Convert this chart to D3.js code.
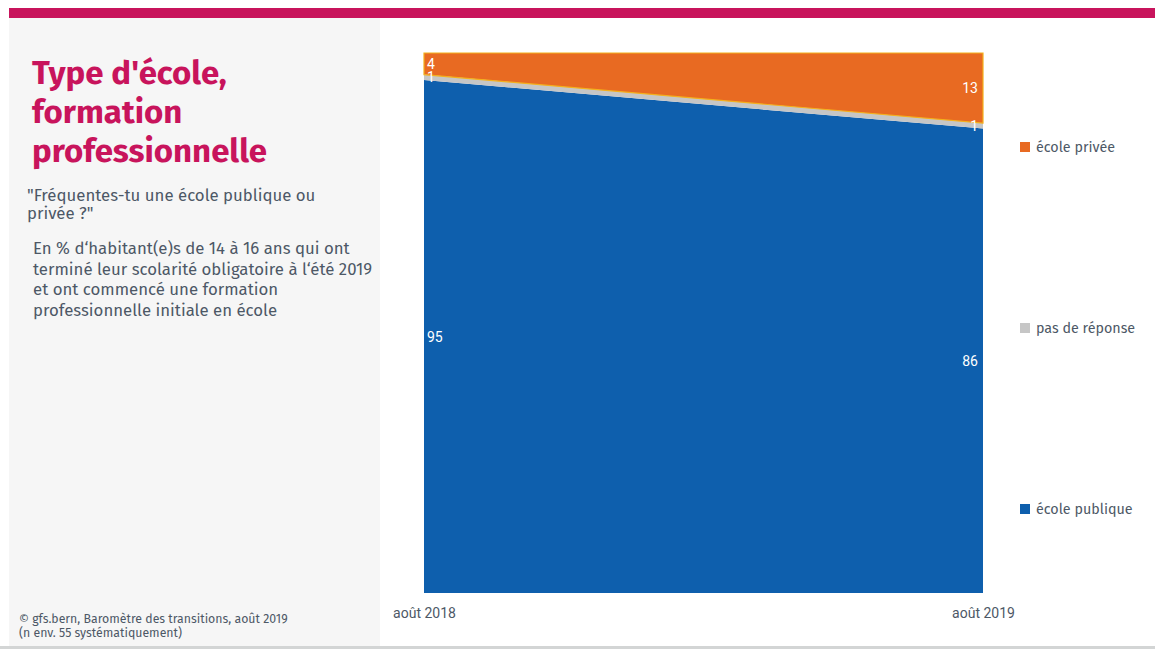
<!DOCTYPE html>
<html><head><meta charset="utf-8">
<script src="https://cdn.jsdelivr.net/npm/d3@7"></script>
<style>
html,body{margin:0;padding:0;background:#fff;}
svg{display:block;}
</style></head>
<body>
<svg id="chart" width="1155" height="649"></svg>
<script>
const periods = ["août 2018", "août 2019"];
const categories = ["école publique", "pas de réponse", "école privée"];
const ecolePublique = [95, 86];
const pasDeReponse = [1, 1];
const ecolePrivee = [4, 13];
const colors = ["#0e5fad", "#c6c6c6", "#e86a22"];
const titleLines = ["Type d'école,", "formation", "professionnelle"];
const questionLines = ["\"Fréquentes-tu une école publique ou", "privée ?\""];
const baseLines = ["En % d‘habitant(e)s de 14 à 16 ans qui ont", "terminé leur scolarité obligatoire à l‘été 2019", "et ont commencé une formation", "professionnelle initiale en école"];
const footLines = ["©  gfs.bern, Baromètre des transitions, août 2019", "(n env. 55 systématiquement)"];

const svg = d3.select("#chart");
const font = "'Fira Sans', 'Open Sans', Roboto, sans-serif";
const cond = "Roboto, 'Open Sans', sans-serif";
const txt = "#4d5866";

// frame
svg.append("rect").attr("x", 9).attr("y", 18).attr("width", 371).attr("height", 628).attr("fill", "#f6f6f6");
svg.append("rect").attr("x", 9).attr("y", 8).attr("width", 1146).attr("height", 10).attr("fill", "#c8145c");
svg.append("rect").attr("x", 0).attr("y", 646).attr("width", 1155).attr("height", 3).attr("fill", "#d3d5d5");

// title
svg.append("g").selectAll("text").data(titleLines).join("text")
  .attr("x", 32).attr("y", (d, i) => 84 + i * 39)
  .attr("font-family", font).attr("font-weight", 700).attr("font-size", 33)
  .attr("fill", "#c8145c").text(d => d);

svg.append("g").selectAll("text").data(questionLines).join("text")
  .attr("x", 27).attr("y", (d, i) => 201 + i * 18)
  .attr("font-family", font).attr("font-size", 16.8).attr("fill", txt).text(d => d);

svg.append("g").selectAll("text").data(baseLines).join("text")
  .attr("x", 33).attr("y", (d, i) => 254 + i * 20.5)
  .attr("font-family", font).attr("font-size", 16.8).attr("fill", txt).text(d => d);

svg.append("g").selectAll("text").data(footLines).join("text")
  .attr("x", 19).attr("y", (d, i) => 623 + i * 14)
  .attr("font-family", font).attr("font-size", 12.3).attr("fill", txt).text(d => d);

// chart
const x = d3.scalePoint().domain(periods).range([424, 983]);
const y = d3.scaleLinear().domain([0, 100]).range([593, 53]);

const rows = periods.map((p, i) => ({
  period: p,
  "école publique": ecolePublique[i],
  "pas de réponse": pasDeReponse[i],
  "école privée": ecolePrivee[i]
}));
const series = d3.stack().keys(categories)(rows);

const area = d3.area()
  .x(d => x(d.data.period))
  .y0(d => y(d[0]))
  .y1(d => y(d[1]));

svg.append("g").selectAll("path").data(series).join("path")
  .attr("d", area)
  .attr("fill", (d, i) => colors[i])
  .attr("stroke", (d, i) => i === 2 ? "#f4b01c" : "none")
  .attr("stroke-width", 1.2);

// value labels
const lab = svg.append("g").attr("font-family", cond).attr("font-size", 14).attr("fill", "#fff");
series.forEach(s => {
  s.forEach((d, j) => {
    lab.append("text")
      .attr("x", j === 0 ? x(d.data.period) + 3 : x(d.data.period) - 5)
      .attr("y", (y(d[0]) + y(d[1])) / 2)
      .attr("dy", "0.36em")
      .attr("text-anchor", j === 0 ? "start" : "end")
      .text(d.data[s.key]);
  });
});

// x axis
const ax = svg.append("g").attr("transform", "translate(0,593)")
  .call(d3.axisBottom(x).tickSize(0).tickPadding(15));
ax.select(".domain").remove();
ax.selectAll("text").attr("font-family", cond).attr("font-size", 14).attr("fill", txt);

// legend
const legendOrder = ["école privée", "pas de réponse", "école publique"];
const lg = svg.append("g").selectAll("g").data(legendOrder).join("g")
  .attr("transform", (d, i) => `translate(1020,${147 + i * 181})`);
lg.append("rect").attr("x", 0).attr("y", -5).attr("width", 10).attr("height", 10)
  .attr("fill", d => colors[categories.indexOf(d)]);
lg.append("text").attr("x", 16).attr("dy", "0.35em")
  .attr("font-family", font).attr("font-size", 14.3).attr("fill", txt).text(d => d);
</script>
</body></html>
